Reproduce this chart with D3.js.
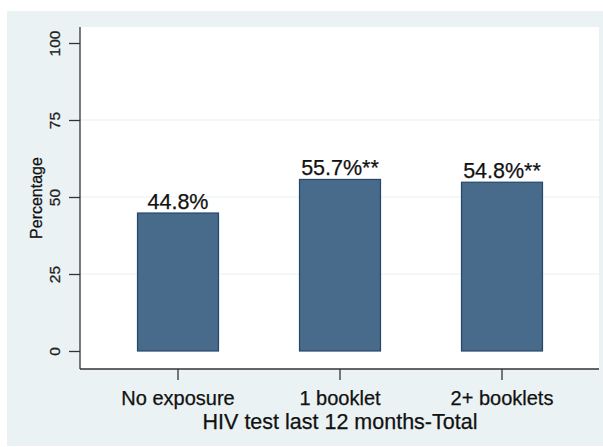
<!DOCTYPE html>
<html>
<head>
<meta charset="utf-8">
<script src="https://cdn.jsdelivr.net/npm/d3@7"></script>
<style>
  html, body { margin: 0; padding: 0; background: #ffffff; }
  svg { display: block; font-family: "Liberation Sans", Arial, sans-serif; }
  svg text { stroke: #111; stroke-width: 0.25px; }
</style>
</head>
<body>
<svg id="chart" width="603" height="447"></svg>
<script>
// Share reporting an HIV test in the last 12 months, by booklet exposure
const categories = ["No exposure", "1 booklet", "2+ booklets"];
const values = [44.8, 55.7, 54.8];
const significance = ["", "**", "**"];
const yTicks = [0, 25, 50, 75, 100];
const yTitle = "Percentage";
const xTitle = "HIV test last 12 months-Total";

const svg = d3.select("#chart");

// outer graph region
svg.append("rect")
  .attr("x", 7).attr("y", 11)
  .attr("width", 596).attr("height", 435)
  .attr("fill", "#eaf2f3");

// plot region
const plot = { left: 80, right: 599, top: 27, bottom: 369 };
svg.append("rect")
  .attr("x", plot.left).attr("y", plot.top)
  .attr("width", plot.right - plot.left)
  .attr("height", plot.bottom - plot.top)
  .attr("fill", "#ffffff");

const x = d3.scaleBand()
  .domain(categories)
  .range([97, 583])
  .paddingInner(0.5)
  .paddingOuter(0.25);

const y = d3.scaleLinear().domain([0, 100]).range([351, 43]);

// gridlines at interior ticks
svg.append("g")
  .selectAll("line")
  .data(yTicks.filter(t => t > 0 && t < 100))
  .join("line")
  .attr("x1", plot.left).attr("x2", plot.right)
  .attr("y1", d => y(d)).attr("y2", d => y(d))
  .attr("stroke", "#e6eff1")
  .attr("stroke-width", 1.2);

// bars
svg.append("g")
  .selectAll("rect")
  .data(values)
  .join("rect")
  .attr("x", (d, i) => x(categories[i]))
  .attr("y", d => y(d))
  .attr("width", x.bandwidth())
  .attr("height", d => y(0) - y(d))
  .attr("fill", "#486a8b")
  .attr("stroke", "#24476b")
  .attr("stroke-width", 1.2);

// value labels
svg.append("g")
  .selectAll("text")
  .data(values)
  .join("text")
  .attr("x", (d, i) => x(categories[i]) + x.bandwidth() / 2)
  .attr("y", d => y(d) - 4)
  .attr("text-anchor", "middle")
  .attr("font-size", 21.5)
  .attr("fill", "#111")
  .text((d, i) => d.toFixed(1) + "%" + significance[i]);

// y axis
const yAxis = d3.axisLeft(y).tickValues(yTicks).tickSize(11).tickPadding(8).tickFormat(d3.format("d"));
const gy = svg.append("g").attr("transform", `translate(${plot.left},0)`).call(yAxis);
gy.select(".domain").remove();
gy.selectAll(".tick line").attr("stroke", "#333").attr("stroke-width", 1.3);
gy.selectAll(".tick text")
  .attr("font-size", 15.5)
  .attr("fill", "#222")
  .attr("font-family", "Liberation Sans, Arial, sans-serif")
  .attr("text-anchor", "middle")
  .attr("dy", null)
  .attr("x", null)
  .attr("transform", "translate(-20,0) rotate(-90)");
svg.append("line")
  .attr("x1", plot.left).attr("x2", plot.left)
  .attr("y1", plot.top).attr("y2", plot.bottom)
  .attr("stroke", "#333").attr("stroke-width", 1.3);

// x axis
const xAxis = d3.axisBottom(x).tickSize(11).tickPadding(0);
const gx = svg.append("g").attr("transform", `translate(0,${plot.bottom})`).call(xAxis);
gx.select(".domain").remove();
gx.selectAll(".tick line").attr("stroke", "#333").attr("stroke-width", 1.3);
gx.selectAll(".tick text")
  .attr("font-size", 20)
  .attr("fill", "#111")
  .attr("font-family", "Liberation Sans, Arial, sans-serif")
  .attr("dy", null)
  .attr("y", 36);
svg.append("line")
  .attr("x1", plot.left).attr("x2", plot.right)
  .attr("y1", plot.bottom).attr("y2", plot.bottom)
  .attr("stroke", "#333").attr("stroke-width", 1.3);

// axis titles
svg.append("text")
  .attr("transform", `translate(42,${(plot.top + plot.bottom) / 2}) rotate(-90)`)
  .attr("text-anchor", "middle")
  .attr("font-size", 16)
  .attr("fill", "#111")
  .text(yTitle);

svg.append("text")
  .attr("x", x(categories[1]) + x.bandwidth() / 2)
  .attr("y", 428.5)
  .attr("text-anchor", "middle")
  .attr("font-size", 21.5)
  .attr("fill", "#111")
  .text(xTitle);
</script>
</body>
</html>
